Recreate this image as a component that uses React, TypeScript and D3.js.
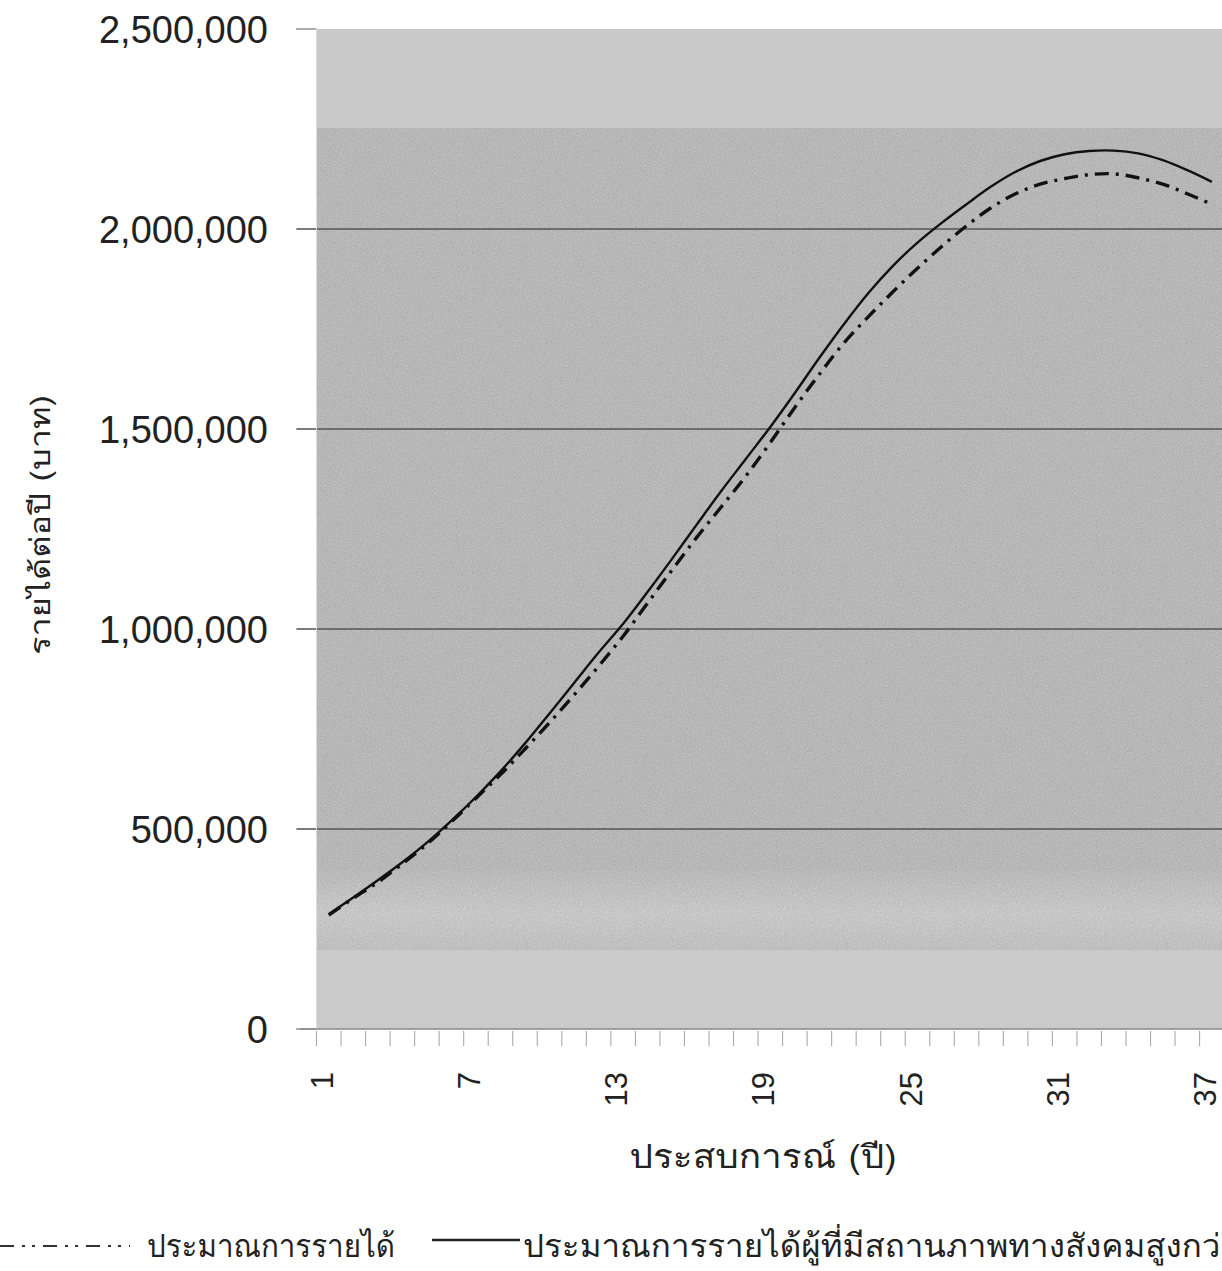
import * as d3 from "d3";

// categories: years of experience
const years = d3.range(1, 38);
const xTickYears = [1, 7, 13, 19, 25, 31, 37];
const yTicks = [0, 500000, 1000000, 1500000, 2000000, 2500000];

// ประมาณการรายได้
const estimated = [
  285000, 327000, 367000, 413000, 462000, 518000, 577000, 636000, 700000,
  766000, 835000, 907000, 982000, 1065000, 1148000, 1229000, 1305000, 1382000,
  1466000, 1554000, 1637000, 1715000, 1781000, 1843000, 1902000, 1957000,
  2008000, 2053000, 2088000, 2112000, 2126000, 2136000, 2138000, 2128000,
  2112000, 2088000, 2062000,
];

// ประมาณการรายได้ผู้ที่มีสถานภาพทางสังคมสูงกว่า
const higherStatus = [
  287000, 329000, 372000, 417000, 466000, 521000, 580000, 644000, 714000,
  789000, 865000, 941000, 1013000, 1093000, 1176000, 1261000, 1345000, 1425000,
  1505000, 1590000, 1678000, 1762000, 1840000, 1908000, 1966000, 2016000,
  2062000, 2106000, 2143000, 2170000, 2187000, 2195000, 2196000, 2189000,
  2172000, 2147000, 2118000,
];

const W = 1222;
const H = 1271;
const m = { left: 316.5, top: 29, bottom: 1029 };
const step = 24.53;

const thai =
  "Loma, Garuda, 'Noto Sans Thai Looped', 'Noto Sans Thai', 'Noto Sans', sans-serif";
const latin = "'Liberation Sans', Arial, sans-serif";

export default function App() {
  const x = d3
    .scaleBand<number>()
    .domain(years)
    .range([m.left, m.left + years.length * step]);
  const cx = (d: number) => (x(d) ?? 0) + x.bandwidth() / 2;
  const y = d3.scaleLinear().domain([0, 2500000]).range([m.bottom, m.top]);

  const line = d3
    .line<number>()
    .x((_, i) => cx(years[i]))
    .y((d) => y(d))
    .curve(d3.curveCatmullRom.alpha(0.5));

  const plotRight = W + 10;
  const fmt = d3.format(",");

  return (
    <div
      style={{
        position: "absolute",
        left: 0,
        top: 0,
        width: W,
        height: H,
        overflow: "hidden",
        background: "#fff",
      }}
    >
      <svg width={W} height={H} viewBox={`0 0 ${W} ${H}`}>
        <defs>
          <filter id="grain" x="0" y="0" width="100%" height="100%">
            <feTurbulence type="fractalNoise" baseFrequency="0.8" numOctaves="2" seed="4" />
            <feColorMatrix
              type="matrix"
              values="1 0 0 0 0  1 0 0 0 0  1 0 0 0 0  0 0 0 0 0.22"
            />
          </filter>
          <linearGradient id="bottomFade" x1="0" y1="0" x2="0" y2="1">
            <stop offset="0" stopColor="#b8b8b8" />
            <stop offset="0.55" stopColor="#cbcbcb" />
            <stop offset="1" stopColor="#c0c0c0" />
          </linearGradient>
        </defs>

        {/* plot background (scanned grey bands) */}
        <rect x={m.left} y={m.top} width={plotRight - m.left} height={m.bottom - m.top} fill="#b6b6b6" />
        <rect x={m.left} y={m.top} width={plotRight - m.left} height={128 - m.top} fill="#c9c9c9" />
        <rect x={m.left} y={870} width={plotRight - m.left} height={80} fill="url(#bottomFade)" />
        <rect x={m.left} y={950} width={plotRight - m.left} height={m.bottom - 950} fill="#cacaca" />
        <rect x={m.left} y={128} width={plotRight - m.left} height={822} filter="url(#grain)" />

        {/* gridlines */}
        {yTicks
          .filter((t) => t > 0 && t < 2500000)
          .map((t) => (
            <line key={t} x1={297} x2={plotRight} y1={y(t)} y2={y(t)} stroke="#555" strokeWidth={1.4} />
          ))}

        {/* y ticks + labels */}
        {yTicks.map((t) => (
          <g key={t}>
            <line x1={296} x2={m.left} y1={y(t)} y2={y(t)} stroke="#777" strokeWidth={1.2} />
            <text
              x={268}
              y={y(t)}
              dy="0.36em"
              textAnchor="end"
              fontFamily={latin}
              fontSize={38}
              fill="#222"
            >
              {fmt(t)}
            </text>
          </g>
        ))}
        <line x1={m.left} x2={m.left} y1={m.top} y2={m.bottom} stroke="#ddd" strokeWidth={1} />

        {/* x axis */}
        <line x1={300} x2={plotRight} y1={m.bottom} y2={m.bottom} stroke="#888" strokeWidth={1.3} />
        {years.map((d) => (
          <line
            key={d}
            x1={x(d)}
            x2={x(d)}
            y1={m.bottom + 2}
            y2={m.bottom + 17}
            stroke="#aaa"
            strokeWidth={1.1}
          />
        ))}
        {xTickYears.map((d) => (
          <text
            key={d}
            transform={`translate(${cx(d) - 7},1072) rotate(-90)`}
            dy="0.36em"
            textAnchor="end"
            fontFamily={latin}
            fontSize={31}
            fill="#222"
          >
            {d}
          </text>
        ))}

        {/* series */}
        <path d={line(higherStatus) ?? ""} fill="none" stroke="#111" strokeWidth={2.4} />
        <path
          d={line(estimated) ?? ""}
          fill="none"
          stroke="#111"
          strokeWidth={3.4}
          strokeDasharray="14 7 3 7"
        />

        {/* axis titles */}
        <text
          transform="translate(50,525) rotate(-90)"
          textAnchor="middle"
          fontFamily={thai}
          fontSize={28}
          fill="#222"
          textLength={260}
          lengthAdjust="spacingAndGlyphs"
        >
          รายได้ต่อปี (บาท)
        </text>
        <text
          x={763}
          y={1168}
          textAnchor="middle"
          fontFamily={thai}
          fontSize={33}
          fill="#222"
          textLength={267}
          lengthAdjust="spacingAndGlyphs"
        >
          ประสบการณ์ (ปี)
        </text>

        {/* legend */}
        <line x1={0} x2={130} y1={1246} y2={1246} stroke="#333" strokeWidth={2.2} strokeDasharray="14 8 3 7 3 8" />
        <text
          x={147}
          y={1257}
          fontFamily={thai}
          fontSize={32}
          fill="#222"
          textLength={248}
          lengthAdjust="spacingAndGlyphs"
        >
          ประมาณการรายได้
        </text>
        <line x1={432} x2={520} y1={1240} y2={1240} stroke="#222" strokeWidth={2.4} />
        <text
          x={523}
          y={1257}
          fontFamily={thai}
          fontSize={32}
          fill="#222"
          textLength={716}
          lengthAdjust="spacingAndGlyphs"
        >
          ประมาณการรายได้ผู้ที่มีสถานภาพทางสังคมสูงกว่า
        </text>
      </svg>
    </div>
  );
}
